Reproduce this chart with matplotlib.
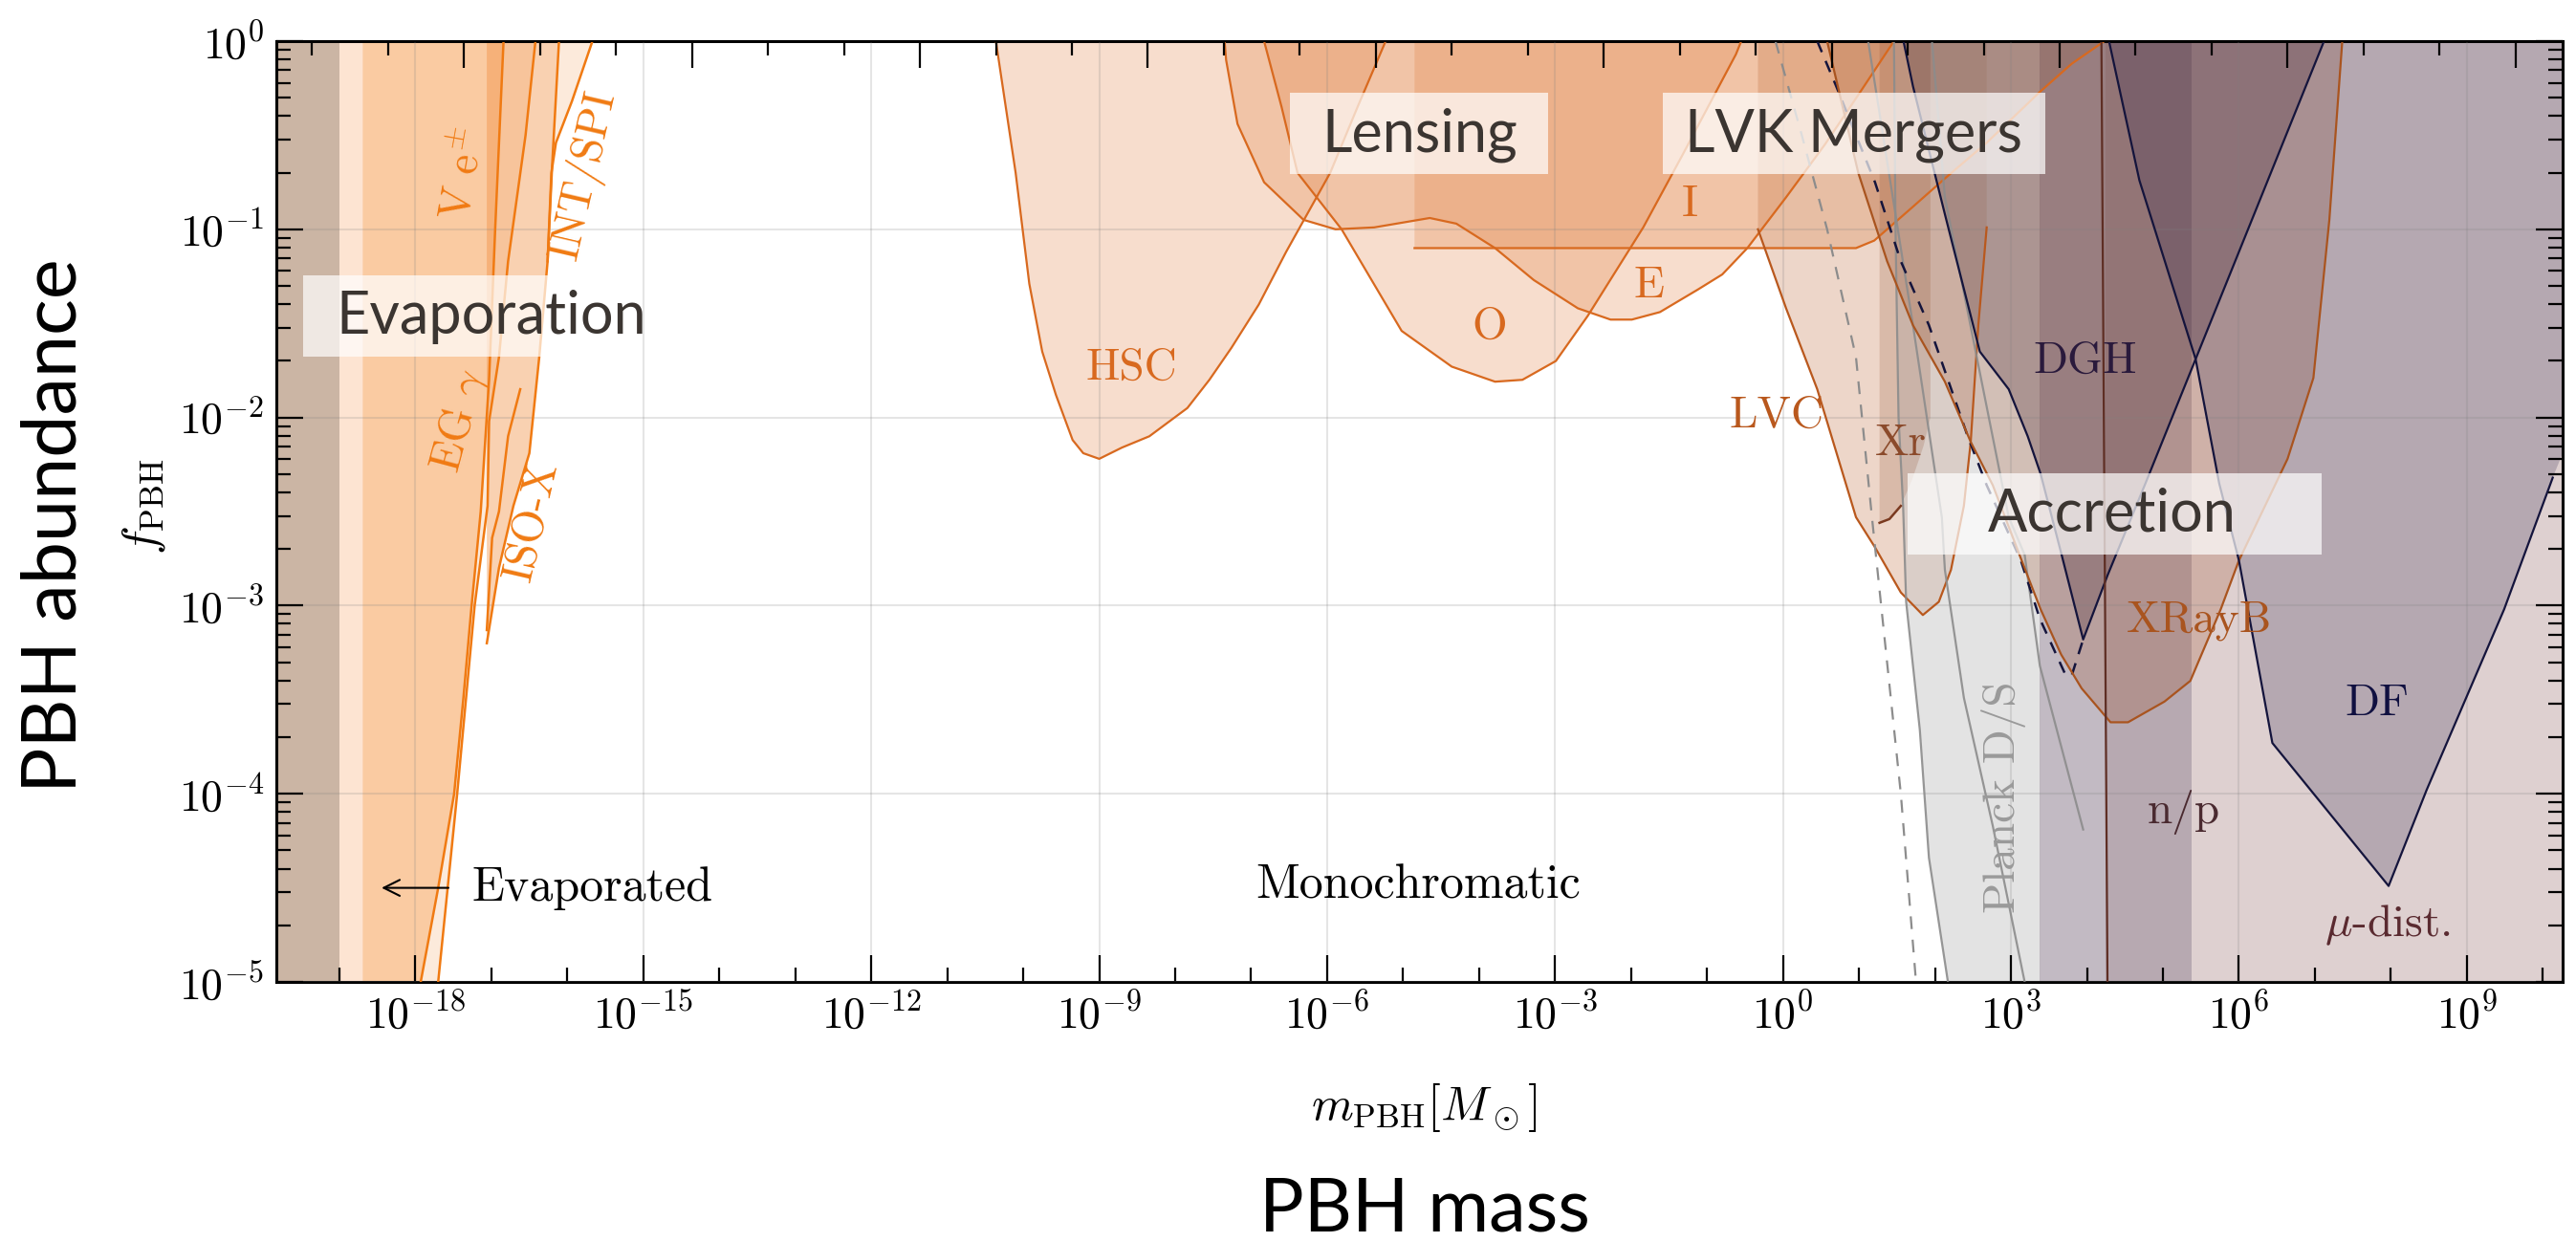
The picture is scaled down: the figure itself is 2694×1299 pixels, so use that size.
import numpy as np
import matplotlib.pyplot as plt
from matplotlib.patches import Rectangle
from matplotlib.ticker import NullFormatter

plt.rcParams['mathtext.fontset'] = 'cm'
plt.rcParams['axes.unicode_minus'] = False

W, H = 2694, 1299
AX_L, AX_R, AX_T, AX_B = 289, 2680, 43, 1027   # axes frame in pixels

# axis ranges, log10 of mass [M_sun] and of f_PBH
LM_MIN, LM_MAX = -19.83, 10.26
LF_MIN, LF_MAX = -5.0, 0.0

# ---------------- evaporation ----------------
evap_edges = [-19.0, -18.69]
egam_lm = [-17.93, -17.70, -17.49, -17.37, -17.26, -17.14, -17.03, -16.95, -16.84]
egam_lf = [-5.0, -4.5, -4.0, -3.5, -3.0, -2.5, -1.8, -1.0, 0.0]
ve_lm = [-17.70, -17.45, -17.22, -17.05, -17.03, -16.90, -16.78, -16.55, -16.42]
ve_lf = [-5.0, -4.0, -3.0, -2.47, -2.02, -1.68, -1.17, -0.50, 0.0]
iso_lm = [-17.06, -16.90, -16.71, -16.50, -16.37, -16.26, -16.20, -16.11]
iso_lf = [-3.20, -2.80, -2.47, -2.19, -1.68, -1.17, -0.66, 0.0]
iso_in_lm = [-17.06, -16.99, -16.90, -16.78, -16.62]
iso_in_lf = [-3.13, -2.64, -2.50, -2.10, -1.85]
int_lm = [-16.26, -16.21, -16.15, -15.94, -15.67]
int_lf = [-1.17, -0.70, -0.54, -0.32, 0.0]

# ---------------- lensing ----------------
hsc_lm = [-10.36, -10.10, -9.92, -9.75, -9.57, -9.35, -9.21, -9.00, -8.70, -8.34,
          -7.84, -7.55, -7.26, -6.90, -6.54, -5.96, -5.60, -5.23]
hsc_lf = [0.0, -0.70, -1.29, -1.65, -1.88, -2.12, -2.19, -2.22, -2.16, -2.10,
          -1.95, -1.80, -1.63, -1.40, -1.12, -0.70, -0.35, 0.0]
eros_lm = [-7.35, -7.33, -7.18, -6.83, -6.31, -5.89, -5.38, -4.65, -4.30, -3.79, -3.28,
           -2.70, -2.27, -1.99, -1.62, -1.12, -0.80, -0.47, 0.04, 0.55, 1.00, 1.46]
eros_lf = [0.0, -0.10, -0.44, -0.75, -0.95, -1.00, -0.99, -0.94, -0.97, -1.10, -1.27,
           -1.42, -1.48, -1.48, -1.44, -1.32, -1.24, -1.10, -0.83, -0.55, -0.28, 0.0]
ogle_lm = [-6.83, -6.60, -6.39, -5.81, -5.02, -4.36, -3.79, -3.43, -2.99, -2.57,
           -1.84, -1.33, -0.62, -0.55]
ogle_lf = [0.0, -0.35, -0.70, -1.00, -1.54, -1.73, -1.81, -1.80, -1.70, -1.46,
           -0.99, -0.61, -0.07, 0.0]
icarus_lm = [-4.85, -4.85, 0.96, 1.20, 1.37, 1.71, 2.13, 2.68, 3.38, 3.80, 4.23]
icarus_lf = [0.0, -1.10, -1.10, -1.06, -1.00, -0.88, -0.73, -0.54, -0.27, -0.12, 0.0]

# ---------------- GW mergers ----------------
lvc_lm = [-0.33, -0.33, 0.04, 0.45, 0.96, 1.21, 1.55, 1.84, 2.05, 2.21, 2.38, 2.47, 2.57, 2.68, 2.68]
lvc_lf = [0.0, -1.00, -1.42, -1.85, -2.53, -2.69, -2.93, -3.05, -2.98, -2.81, -2.47, -2.13, -1.51, -0.99, 0.0]

# ---------------- accretion / CMB ----------------
p1_lm = [1.46, 1.48, 1.52, 1.58, 1.62, 1.80, 1.92, 2.17]
p1_lf = [0.0, -1.0, -2.0, -2.47, -2.98, -3.66, -4.34, -5.0]
p2_lm = [1.12, 1.71, 2.09, 2.13, 2.38, 2.76, 3.18]
p2_lf = [0.0, -1.51, -2.53, -2.81, -3.49, -4.17, -5.0]
p3_lm = [1.96, 2.13, 2.55, 2.97, 3.18, 3.38, 3.95]
p3_lf = [0.0, -0.83, -1.68, -2.53, -2.73, -3.32, -4.19]
pd_lm = [-0.10, 0.24, 0.58, 0.96, 1.17, 1.33, 1.55, 1.75]
pd_lf = [0.0, -0.49, -1.00, -1.68, -2.53, -3.15, -4.00, -5.00]
planck_edge = 3.38
mu_edge = 3.38
np_edges = [3.38, 5.38]
np_core = [4.25, 5.38]
np_line_lm = [4.19, 4.27]
np_line_lf = [0.0, -5.0]
xr_lm = [1.27, 1.27, 1.40, 1.55, 1.70, 1.85, 1.94, 1.94]
xr_lf = [0.0, -2.56, -2.54, -2.47, -2.33, -2.15, -2.00, 0.0]
xrb_lm = [0.58, 0.99, 1.37, 1.71, 2.13, 2.47, 2.76, 3.14, 3.39, 3.66, 3.93, 4.31, 4.54,
          5.02, 5.36, 5.76, 6.00, 6.64, 6.98, 7.19, 7.36]
xrb_lf = [0.0, -0.70, -1.17, -1.51, -1.81, -2.13, -2.36, -2.76, -3.02, -3.26, -3.44, -3.62, -3.62,
          -3.51, -3.40, -3.02, -2.76, -2.22, -1.79, -0.95, 0.0]
dghd_lm = [0.45, 0.70, 1.21, 1.55, 1.92, 2.43, 2.68, 3.13, 3.38, 3.72, 3.80, 3.95]
dghd_lf = [0.0, -0.24, -0.75, -1.17, -1.51, -2.10, -2.36, -2.76, -3.07, -3.37, -3.37, -3.18]
dgh_lm = [1.585, 1.71, 2.13, 2.59, 2.97, 3.22, 3.39, 3.66, 3.95, 4.27, 4.77, 5.43, 7.12]
dgh_lf = [0.0, -0.24, -0.92, -1.65, -1.85, -2.10, -2.30, -2.72, -3.18, -2.84, -2.35, -1.69, 0.0]
df_lm = [4.29, 4.69, 5.43, 5.74, 6.00, 6.44, 7.97, 8.47, 9.49, 10.13, 10.40, 10.40]
df_lf = [0.0, -0.74, -1.69, -2.35, -2.76, -3.73, -4.49, -3.98, -3.02, -2.32, -2.05, 0.0]


def P(v):
    return 10.0 ** np.asarray(v, dtype=float)


def fill(lm, lf, color, alpha, z=1):
    ax.fill(P(lm), P(lf), facecolor=color, alpha=alpha, edgecolor='none', zorder=z)


def line(lm, lf, color, lw=1.7, ls='-', z=3, alpha=1.0, dashes=None):
    kw = dict(color=color, lw=lw, ls=ls, zorder=z, alpha=alpha)
    if dashes:
        kw['dashes'] = dashes
    ax.plot(P(lm), P(lf), **kw)


def vband(a, b, color, alpha, z=1):
    ax.axvspan(10.0 ** a, 10.0 ** b, facecolor=color, alpha=alpha, edgecolor='none', zorder=z)


fig = plt.figure(figsize=(W / 100, H / 100), dpi=100)
ax = fig.add_axes([AX_L / W, 1 - AX_B / H, (AX_R - AX_L) / W, (AX_B - AX_T) / H])
ax.set_xscale('log')
ax.set_yscale('log')
ax.set_xlim(10.0 ** LM_MIN, 10.0 ** LM_MAX)
ax.set_ylim(10.0 ** LF_MIN, 10.0 ** LF_MAX)

EVAP = '#f07a12'
LENS = '#d8691f'
NAVY = '#14143c'
GRAY = '#8c8c8c'

# evaporation
vband(LM_MIN - 1, evap_edges[0], '#cbb5a4', 1.0)
vband(evap_edges[0], evap_edges[1], '#fde4d2', 1.0)
fill([evap_edges[1]] + egam_lm + [evap_edges[1]], [LF_MIN] + egam_lf + [LF_MAX], '#f58c32', 0.45)
fill(egam_lm + ve_lm[::-1], egam_lf + ve_lf[::-1], '#f08c3c', 0.18)
fill(iso_lm + [iso_lm[0]], iso_lf + [LF_MAX], '#f08c3c', 0.40)
fill(int_lm + [-16.11, -16.20], int_lf + [0.0, -0.66], '#f08c3c', 0.18)
for lm, lf in [(egam_lm, egam_lf), (ve_lm, ve_lf), (iso_lm, iso_lf),
               (iso_in_lm, iso_in_lf), (int_lm, int_lf)]:
    line(lm, lf, EVAP, lw=1.8)

# lensing
for lm, lf in [(hsc_lm, hsc_lf), (eros_lm, eros_lf), (ogle_lm, ogle_lf), (icarus_lm, icarus_lf)]:
    fill(lm, lf, '#e07a38', 0.25)
for lm, lf in [(hsc_lm, hsc_lf), (eros_lm, eros_lf), (ogle_lm, ogle_lf)]:
    line(lm, lf, LENS, lw=1.6)
line(icarus_lm[1:], icarus_lf[1:], LENS, lw=1.6)

# LVC mergers
fill(lvc_lm, lvc_lf, '#bf6e3d', 0.28)
line(lvc_lm[1:-1], lvc_lf[1:-1], '#b9581d', lw=1.6)

# CMB / accretion bands
fill(p1_lm + [planck_edge, planck_edge], p1_lf + [LF_MIN, LF_MAX], '#c8c8c8', 0.5)
vband(mu_edge, LM_MAX + 1, '#8a5959', 0.28)
vband(np_edges[0], np_edges[1], '#7882a0', 0.27)
vband(np_core[0], np_core[1], '#7a4a50', 0.15)
fill(xr_lm, xr_lf, '#8c4a2b', 0.20)
fill(xrb_lm, xrb_lf, '#a0502a', 0.24)
fill(dgh_lm, dgh_lf, '#40202c', 0.26)
fill(df_lm, df_lf, '#261c46', 0.22)

for lm, lf in [(p1_lm, p1_lf), (p2_lm, p2_lf), (p3_lm, p3_lf)]:
    line(lm, lf, GRAY, lw=1.6, alpha=0.9)
line(pd_lm, pd_lf, GRAY, lw=1.6, dashes=(6, 5))
line(dghd_lm, dghd_lf, NAVY, lw=1.8, dashes=(5, 4))
line(xrb_lm, xrb_lf, '#a9541f', lw=1.6)
line(xr_lm[1:4], xr_lf[1:4], '#7a3a20', lw=1.8)
line(dgh_lm, dgh_lf, NAVY, lw=1.6)
line(df_lm[:-2], df_lf[:-2], NAVY, lw=1.6)
line(np_line_lm, np_line_lf, '#5e2e24', lw=1.6)

# grid, ticks, frame
ax.grid(which='major', color='0.5', alpha=0.2, lw=1.5)
ax.set_axisbelow(False)
xmaj = np.arange(-18, 10, 3)
xmin = np.array([k for k in range(-19, 11) if k not in xmaj])
ax.set_xticks(P(xmaj))
ax.set_xticklabels([r'$10^{%d}$' % k for k in xmaj])
ax.set_xticks(P(xmin), minor=True)
ax.xaxis.set_minor_formatter(NullFormatter())
ymaj = np.arange(-5, 1)
ax.set_yticks(P(ymaj))
ax.set_yticklabels([r'$10^{%d}$' % k for k in ymaj])
ymin = [np.log10(m) + k for k in range(-5, 0) for m in range(2, 10)]
ax.set_yticks(P(ymin), minor=True)
ax.yaxis.set_minor_formatter(NullFormatter())
ax.tick_params(which='major', direction='in', length=20, width=1.6, labelsize=33,
               top=False, right=True, pad=9)
ax.tick_params(which='minor', direction='in', length=10.5, width=1.6, top=False, right=True)
for s in ax.spines.values():
    s.set_linewidth(2.2)

axt = ax.twiny()
axt.set_xscale('log')
axt.set_xlim(10.0 ** (LM_MIN + 0.36), 10.0 ** (LM_MAX + 0.36))
tmaj = np.arange(-17, 11, 3)
axt.set_xticks(P(tmaj))
axt.set_xticks(P([k for k in range(-19, 11) if k not in tmaj]), minor=True)
axt.xaxis.set_major_formatter(NullFormatter())
axt.xaxis.set_minor_formatter(NullFormatter())
axt.tick_params(which='major', direction='in', length=20, width=1.6)
axt.tick_params(which='minor', direction='in', length=10.5, width=1.6)

# region labels
cm = 34
def lab(lm, lf, s, color, size=cm, rot=0, ha='center'):
    ax.text(10.0 ** lm, 10.0 ** lf, s, color=color, fontsize=size, rotation=rot,
            ha=ha, va='center', rotation_mode='anchor', zorder=6, family='cmr10')

lab(-17.37, -0.71, r'V e$^{\pm}$', EVAP, 33, 80)
lab(-17.41, -2.02, r'EG $\gamma$', EVAP, 33, 75)
lab(-15.77, -0.71, 'INT/SPI', EVAP, 33, 77)
lab(-16.47, -2.55, 'ISO-X', EVAP, 33, 77)
lab(-8.57, -1.74, 'HSC', LENS)
lab(-3.87, -1.52, 'O', LENS)
lab(-1.76, -1.30, 'E', LENS)
lab(-1.23, -0.87, 'I', LENS)
lab(-0.08, -1.99, 'LVC', '#b9581d')
lab(1.55, -2.14, 'Xr', '#8b4a2b')
lab(3.98, -1.70, 'DGH', '#2a1a3c')
lab(5.48, -3.08, 'XRayB', '#a9541f')
lab(2.91, -4.02, 'Planck D/S', '#9a9a9a', cm, 90)
lab(7.81, -3.52, 'DF', '#101040')
lab(5.27, -4.10, 'n/p', '#4a2a30')
lab(7.95, -4.70, r'$\mu$-dist.', '#5a2a30')
lab(-4.80, -4.49, 'Monochromatic', 'black', 36)
lab(-17.26, -4.50, 'Evaporated', 'black', 36, ha='left')
ax.annotate('', xy=(10.0 ** -18.48, 10.0 ** -4.50), xytext=(10.0 ** -17.53, 10.0 ** -4.50),
            arrowprops=dict(arrowstyle='->', color='black', lw=1.5, mutation_scale=30), zorder=6)

# category boxes (pixel extents of box, text centre/baseline)
boxes = [('Evaporation', (317, 672, 288, 373), (514, 349)),
         ('Lensing', (1349, 1619, 97, 182), (1485, 158)),
         ('LVK Mergers', (1739, 2139, 97, 182), (1938, 158)),
         ('Accretion', (1995, 2428, 495, 580), (2209, 556))]
aw, ah = AX_R - AX_L, AX_B - AX_T
for name, (x0, x1, y0, y1), (tx, ty) in boxes:
    ax.add_patch(Rectangle(((x0 - AX_L) / aw, (AX_B - y1) / ah), (x1 - x0) / aw, (y1 - y0) / ah,
                           transform=ax.transAxes, facecolor='white', alpha=0.7,
                           edgecolor='none', zorder=7))
    ax.text((tx - AX_L) / aw, (AX_B - ty) / ah, name, transform=ax.transAxes, ha='center',
            va='baseline', fontsize=44, family='Lato', color='#3b3531', zorder=8)

# axis titles
fig.text(58 / W, 1 - 550 / H, 'PBH abundance', rotation=90, ha='center', va='center',
         fontsize=57, family='Lato')
fig.text(150 / W, 1 - 530 / H, r'$f_{\rm PBH}$', rotation=90, ha='center', va='center', fontsize=36)
fig.text(1489 / W, 1 - 1158 / H, r'$m_{\rm PBH} [M_\odot]$', ha='center', va='center', fontsize=36)
fig.text(1490 / W, 1 - 1266 / H, 'PBH mass', ha='center', va='center', fontsize=56, family='Lato')

fig.savefig('out.png', dpi=100)
